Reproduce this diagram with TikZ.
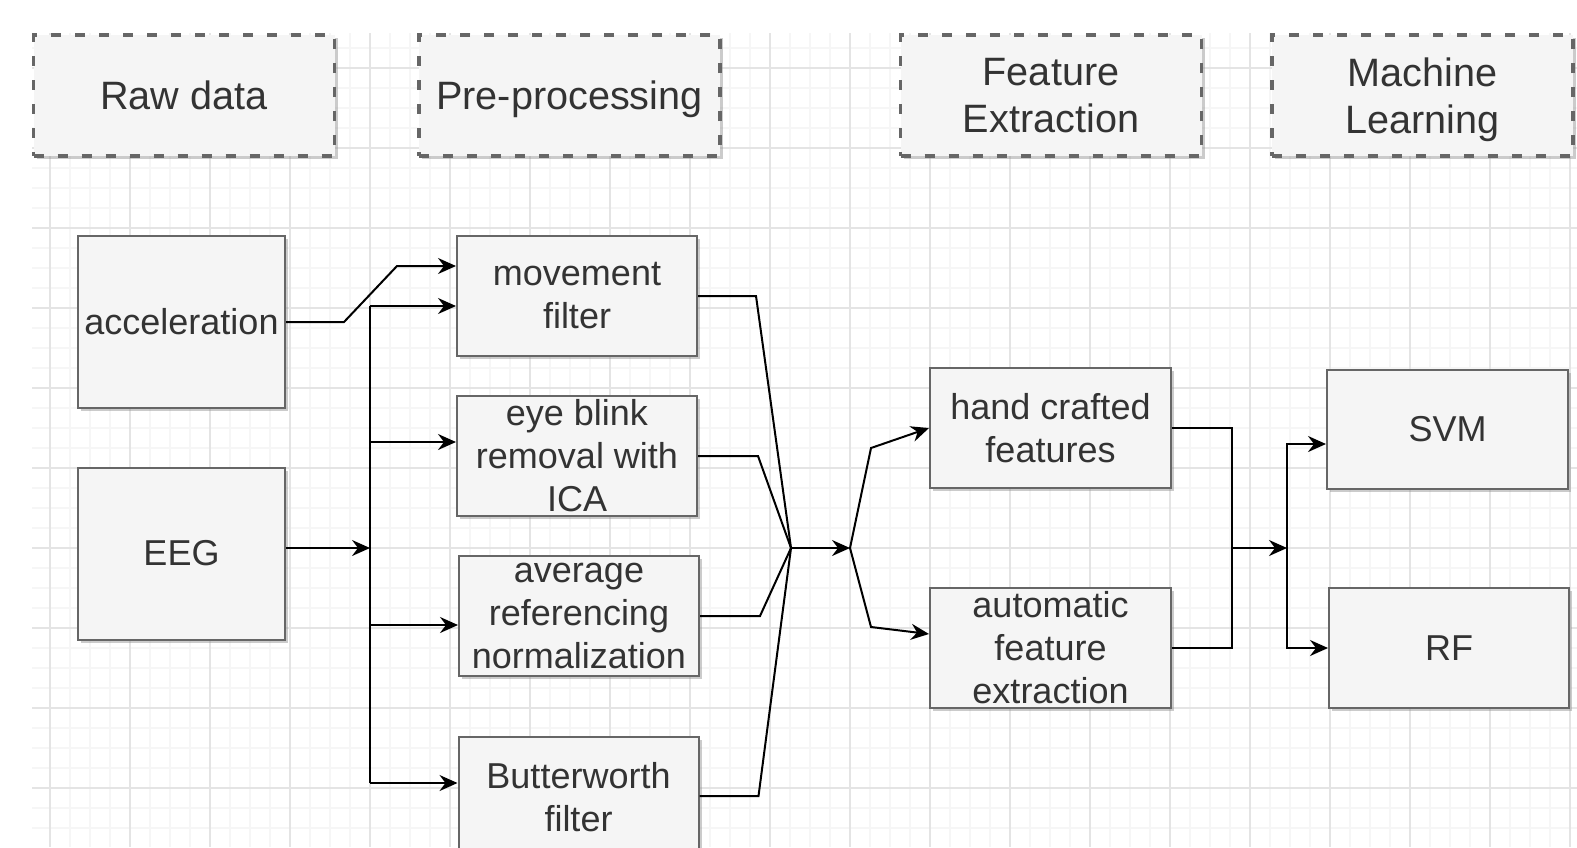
\documentclass[tikz,border=0pt]{standalone}
\usepackage{fontspec}
\setmainfont{Liberation Sans}
\usetikzlibrary{arrows.meta,calc,shadows}

\definecolor{boxfill}{HTML}{F5F5F5}
\definecolor{boxline}{HTML}{666666}
\definecolor{textgray}{HTML}{333333}
\definecolor{gridminor}{HTML}{F6F6F6}
\definecolor{gridmajor}{HTML}{E4E4E4}

\newcommand{\headfont}{\fontsize{19.8}{23.7}\selectfont}
\newcommand{\boxfont}{\fontsize{18}{21.5}\selectfont}

\tikzset{
  stage/.style={draw=boxline, line width=1.8pt, dash pattern=on 5pt off 7pt,
    fill=boxfill, text=textgray, font=\headfont, align=center, inner sep=0pt,
    text depth=0pt, minimum width=150.5pt, minimum height=60.5pt,
    drop shadow={shadow xshift=1.5pt, shadow yshift=-1.5pt, fill=black!45, opacity=0.45}},
  block/.style={draw=boxline, line width=1pt, fill=boxfill, text=textgray,
    font=\boxfont, align=center, inner sep=0pt,
    minimum width=120pt, minimum height=60pt,
    drop shadow={shadow xshift=1.5pt, shadow yshift=-1.5pt, fill=black!45, opacity=0.45}},
  wire/.style={line width=1pt, black},
  link/.style={wire, -{Stealth[length=9pt, width=8pt, inset=3pt]}}
}

\begin{document}
\begin{tikzpicture}[x=0.5pt, y=-0.5pt]

\useasboundingbox (0,0) rectangle (1577,847);
\fill[white] (0,0) rectangle (1577,847);

% grid
\foreach \x in {50,70,...,1570} \draw[gridminor, line width=0.6pt] (\x,33) -- (\x,847);
\foreach \y in {48,68,...,840} \draw[gridminor, line width=0.6pt] (32,\y) -- (1577,\y);
\foreach \x in {50,130,...,1570} \draw[gridmajor, line width=0.6pt] (\x,33) -- (\x,847);
\foreach \y in {68,148,...,788} \draw[gridmajor, line width=0.6pt] (32,\y) -- (1577,\y);

% stage headers
\node[stage] (raw)  at (184,95.5)    {Raw data};
\node[stage] (pre)  at (569.5,95.5)  {Pre-processing};
\node[stage] (feat) at (1051,95.5)   {Feature\\Extraction};
\node[stage] (ml)   at (1422.5,95.5) {Machine\\Learning};

% raw data
\node[block, minimum width=103.5pt, minimum height=86pt] (acc) at (181.5,322) {acceleration};
\node[block, minimum width=103.5pt, minimum height=86pt] (eeg) at (181.5,553.5) {EEG};

% pre-processing
\node[block] (mov) at (577,296) {movement\\filter};
\node[block] (eye) at (577,456) {eye blink\\removal with\\ICA};
\node[block] (avg) at (579,616) {average\\referencing\\normalization};
\node[block] (but) at (578.5,797) {Butterworth\\filter};

% features
\node[block, minimum width=120.5pt] (hand) at (1050.5,428) {hand crafted\\features};
\node[block, minimum width=120.5pt] (auto) at (1050.5,648) {automatic\\feature\\extraction};

% classifiers
\node[block, minimum width=120.5pt, minimum height=59.5pt] (svm) at (1447.5,429.5) {SVM};
\node[block] (rf) at (1449,648) {RF};

\coordinate (kinka) at (344,322);
\coordinate (kinkb) at (397,266);
\coordinate (trunk) at (370,548);
\coordinate (trunktop) at (370,306);
\coordinate (trunkbot) at (370,783);
\coordinate (junc) at (791,548);
\coordinate (split) at (850,548);
\coordinate (merge) at (1231,548);
\coordinate (fork) at (1287,548);

\draw[link] (acc.east) -- (kinka) -- (kinkb) -- (kinkb -| mov.west);

\draw[link] (eeg.east |- trunk) -- (trunk);
\draw[wire] (trunktop) -- (trunkbot);
\foreach \yy/\tgt in {306/mov, 442/eye, 625/avg, 783/but} {
  \coordinate (br) at (370,\yy);
  \draw[link] (br) -- (br -| \tgt.west);
}

\draw[wire] (mov.east) -- ++(58,0) -- (junc);
\draw[wire] (eye.east) -- ++(60,0) -- (junc);
\draw[wire] (avg.east) -- ++(60,0) -- (junc);
\draw[wire] ($(but.east)+(0,-1)$) -- ++(59,0) -- (junc);

\draw[link] (junc) -- (split);
\draw[link] (split) -- ++(21,-100) -- (hand.west);
\draw[link] (split) -- ++(21,79) -- ($(auto.west)+(0,-14)$);

\draw[wire] (hand.east) -- ++(60,0) |- (auto.east);
\draw[link] (merge) -- (fork);
\draw[link] (fork) |- ($(svm.west)+(0,14.5)$);
\draw[link] (fork) |- (rf.west);

\end{tikzpicture}
\end{document}
